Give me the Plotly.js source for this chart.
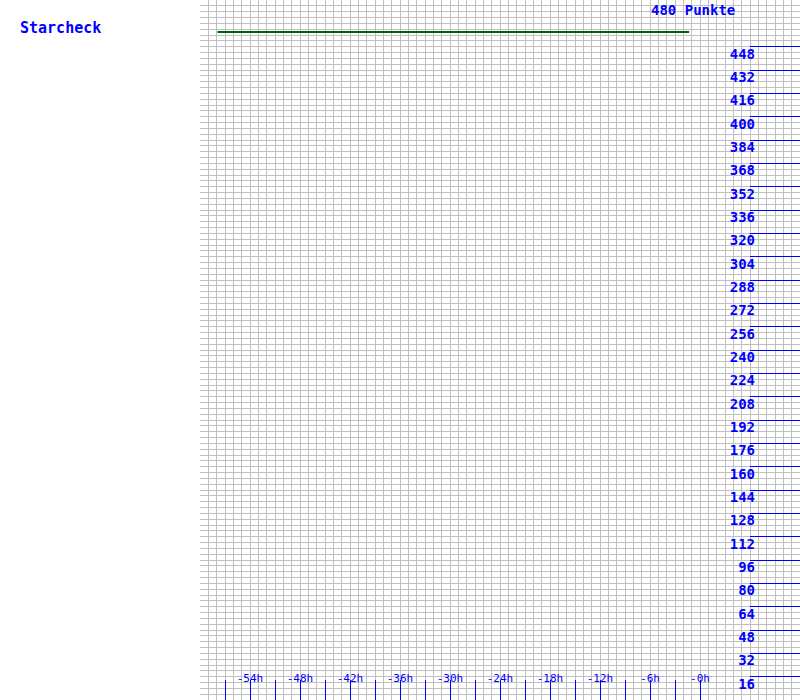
<!DOCTYPE html>
<html>
<head>
<meta charset="utf-8">
<script src="https://cdn.plot.ly/plotly-3.0.1.min.js"></script>
<style>
  html, body { margin: 0; padding: 0; background: #ffffff; }
  #chart { width: 800px; height: 700px; }
</style>
</head>
<body>
<div id="chart"></div>
<script>
const chartTitle = 'Starcheck';
const maxPoints = 480;
const unitLabel = 'Punkte';
const hourRange = [-60, 12];

const hours = [-57.9, -1.3];
const points = [458, 458];

const xTickVals = [-57, -54, -51, -48, -45, -42, -39, -36, -33, -30, -27, -24, -21, -18, -15, -12, -9, -6, -3, 0];
const xLabelVals = [-54, -48, -42, -36, -30, -24, -18, -12, -6, 0];
const xLabelText = ['-54h', '-48h', '-42h', '-36h', '-30h', '-24h', '-18h', '-12h', '-6h', '-0h'];
const yTickVals = [16, 32, 48, 64, 80, 96, 112, 128, 144, 160, 176, 192, 208, 224, 240, 256, 272, 288, 304, 320, 336, 352, 368, 384, 400, 416, 432, 448];

const blue = '#0000ff';
const gridGray = '#c0c0c0';
const mono = 'DejaVu Sans Mono, Liberation Mono, monospace';

const traces = [{
  type: 'scatter',
  mode: 'lines',
  x: hours,
  y: points,
  xaxis: 'x',
  yaxis: 'y',
  line: { color: '#006400', width: 2 },
  hoverinfo: 'skip',
  showlegend: false
}, {
  // carrier for the label axes (no visible marks)
  type: 'scatter',
  mode: 'markers',
  x: [null],
  y: [null],
  xaxis: 'x2',
  yaxis: 'y2',
  hoverinfo: 'skip',
  showlegend: false
}];

const layout = {
  width: 800,
  height: 700,
  margin: { l: 200, r: 0, t: 0, b: 0, pad: 0 },
  paper_bgcolor: '#ffffff',
  plot_bgcolor: '#ffffff',
  showlegend: false,
  title: {
    text: chartTitle,
    font: { family: mono, size: 15, weight: 'bold', color: blue },
    xref: 'container', yref: 'container',
    x: 0.025, xanchor: 'left',
    y: 1 - 28 / 700, yanchor: 'middle'
  },
  xaxis: {
    range: hourRange,
    tickmode: 'array',
    tickvals: xTickVals,
    ticks: 'inside',
    ticklen: 20,
    tickwidth: 1,
    tickcolor: blue,
    showticklabels: false,
    showgrid: true,
    gridcolor: gridGray,
    gridwidth: 1,
    minor: { tickmode: 'linear', tick0: 0, dtick: 1, showgrid: true, gridcolor: gridGray, gridwidth: 1, ticks: '' },
    zeroline: false,
    showline: false,
    fixedrange: true
  },
  xaxis2: {
    overlaying: 'x',
    range: hourRange,
    anchor: 'free',
    position: (700 - 673) / 700,
    side: 'bottom',
    tickmode: 'array',
    tickvals: xLabelVals,
    ticktext: xLabelText,
    ticks: '',
    ticklabelstandoff: -3,
    tickfont: { family: mono, size: 11, color: blue },
    showgrid: false,
    zeroline: false,
    showline: false,
    fixedrange: true
  },
  yaxis: {
    range: [0, maxPoints],
    side: 'right',
    tickmode: 'array',
    tickvals: yTickVals,
    ticks: 'inside',
    ticklen: 50,
    tickwidth: 1,
    tickcolor: blue,
    showticklabels: false,
    showgrid: true,
    gridcolor: gridGray,
    gridwidth: 1,
    minor: { tickmode: 'linear', tick0: 0, dtick: 4, showgrid: true, gridcolor: gridGray, gridwidth: 1, ticks: '' },
    zeroline: false,
    showline: false,
    fixedrange: true
  },
  yaxis2: {
    overlaying: 'y',
    range: [0, maxPoints],
    anchor: 'free',
    position: (755 - 200) / 600,
    side: 'left',
    tickmode: 'array',
    tickvals: yTickVals,
    ticks: '',
    ticklabelstandoff: 0,
    ticklabelshift: 7,
    tickfont: { family: mono, size: 14, weight: 'bold', color: blue },
    showgrid: false,
    zeroline: false,
    showline: false,
    fixedrange: true
  },
  annotations: [{
    text: maxPoints + ' ' + unitLabel,
    xref: 'paper', yref: 'paper',
    x: (693 - 200) / 600, xanchor: 'center',
    y: 1, yanchor: 'top',
    showarrow: false,
    font: { family: mono, size: 14, weight: 'bold', color: blue }
  }]
};

Plotly.newPlot('chart', traces, layout, { displayModeBar: false, staticPlot: true });
</script>
</body>
</html>
